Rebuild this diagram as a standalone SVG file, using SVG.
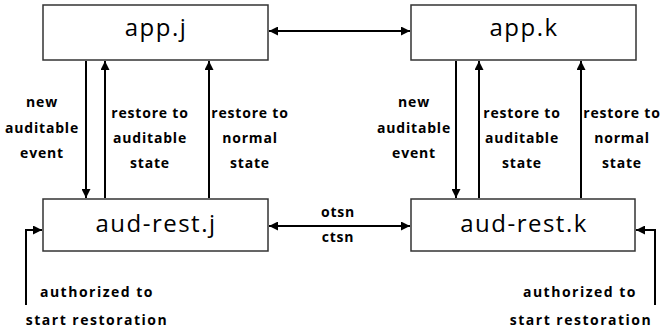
<svg xmlns="http://www.w3.org/2000/svg" width="663" height="335" viewBox="0 0 663 335">
<style>
.box{fill:#fff;stroke:#333;stroke-width:1.5}
.bl{font-family:"Open Sans","DejaVu Sans",sans-serif;font-size:24px;letter-spacing:1.5px;text-anchor:middle;fill:#000}
.lb{font-family:"Open Sans","DejaVu Sans",sans-serif;font-size:14px;font-weight:bold;letter-spacing:0.8px;text-anchor:middle;fill:#000}
.wide{letter-spacing:1.5px}
.c{stroke:#000;stroke-width:2;fill:none}
</style>
<defs>
<marker id="ah" viewBox="0 0 10 10" refX="10" refY="5" markerWidth="9" markerHeight="9" markerUnits="userSpaceOnUse" orient="auto-start-reverse">
<path d="M0,0 L10,5 L0,10 z" fill="#000"/>
</marker>
</defs>
<g id="app-j"><rect class="box" x="43" y="5" width="225" height="55"/><text class="bl" x="156" y="36">app.j</text></g>
<g id="app-k"><rect class="box" x="411" y="5" width="225" height="55"/><text class="bl" x="524" y="36">app.k</text></g>
<g id="aud-rest-j"><rect class="box" x="43" y="199" width="225" height="52"/><text class="bl" x="156" y="232">aud-rest.j</text></g>
<g id="aud-rest-k"><rect class="box" x="411" y="199" width="224" height="52"/><text class="bl" x="524" y="232">aud-rest.k</text></g>
<g id="connectors">
<line class="c" x1="269" y1="31" x2="410" y2="31" marker-start="url(#ah)" marker-end="url(#ah)"/>
<line class="c" x1="269" y1="226" x2="410" y2="226" marker-start="url(#ah)" marker-end="url(#ah)"/>
<line class="c" x1="86" y1="61" x2="86" y2="198" marker-end="url(#ah)"/>
<line class="c" x1="105" y1="198" x2="105" y2="61" marker-end="url(#ah)"/>
<line class="c" x1="209" y1="198" x2="209" y2="61" marker-end="url(#ah)"/>
<line class="c" x1="456" y1="61" x2="456" y2="198" marker-end="url(#ah)"/>
<line class="c" x1="479" y1="198" x2="479" y2="61" marker-end="url(#ah)"/>
<line class="c" x1="581" y1="198" x2="581" y2="61" marker-end="url(#ah)"/>
<polyline class="c" points="26,305 26,230 42,230" marker-end="url(#ah)"/>
<polyline class="c" points="655,305 655,230 636,230" marker-end="url(#ah)"/>
</g>
<g id="labels">
<text class="lb" x="42" y="107">new</text>
<text class="lb" x="42" y="133">auditable</text>
<text class="lb" x="42" y="158">event</text>
<text class="lb" x="150" y="118">restore to</text>
<text class="lb" x="150" y="143">auditable</text>
<text class="lb" x="150" y="168">state</text>
<text class="lb" x="250" y="118">restore to</text>
<text class="lb" x="250" y="143">normal</text>
<text class="lb" x="250" y="168">state</text>
<text class="lb" x="414" y="107">new</text>
<text class="lb" x="414" y="133">auditable</text>
<text class="lb" x="414" y="158">event</text>
<text class="lb" x="522" y="118">restore to</text>
<text class="lb" x="522" y="143">auditable</text>
<text class="lb" x="522" y="168">state</text>
<text class="lb" x="622" y="118">restore to</text>
<text class="lb" x="622" y="143">normal</text>
<text class="lb" x="622" y="168">state</text>
<text class="lb" x="338" y="217">otsn</text>
<text class="lb" x="338" y="242">ctsn</text>
<text class="lb wide" x="97" y="297">authorized to</text>
<text class="lb wide" x="97" y="325">start restoration</text>
<text class="lb wide" x="580" y="297">authorized to</text>
<text class="lb wide" x="581" y="325">start restoration</text>
</g>
</svg>
